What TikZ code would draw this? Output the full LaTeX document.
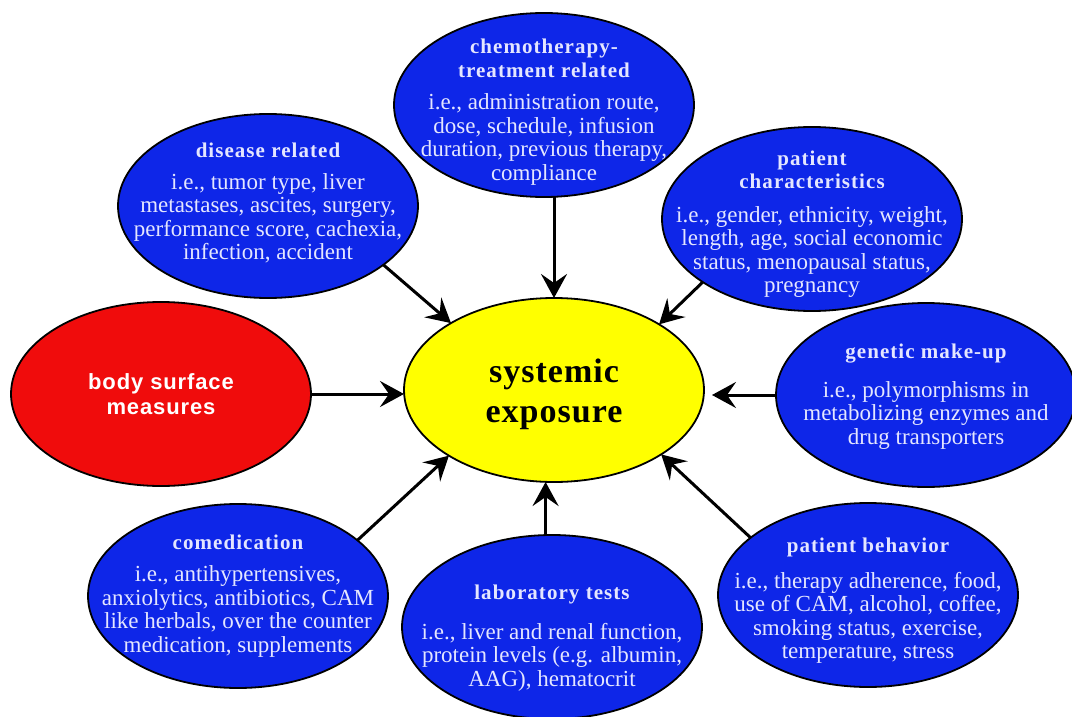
\documentclass[tikz,border=0pt]{standalone}
\usepackage{fontspec}
\setmainfont{Liberation Serif}
\newfontfamily\ttlfont{Liberation Serif}[LetterSpace=5]
\newfontfamily\bigfont{Liberation Serif}[LetterSpace=3]
\newfontfamily\redfont{Liberation Sans}[LetterSpace=4]
\usetikzlibrary{shapes.geometric,arrows.meta}
\definecolor{bblue}{RGB}{14,38,232}
\definecolor{btext}{RGB}{228,230,255}
\definecolor{rred}{RGB}{240,12,12}
\definecolor{yyel}{RGB}{255,255,0}
\newcommand{\ttl}[1]{{\ttlfont\bfseries\fontsize{21}{23.5}\selectfont #1}}
\tikzset{
  oval/.style={ellipse, draw=black, line width=1.8pt, minimum width=300pt,
    minimum height=184pt, inner sep=0pt, outer sep=0pt},
  blueoval/.style={oval, fill=bblue},
  redoval/.style={oval, fill=rred},
  yoval/.style={oval, fill=yyel},
  bluetext/.style={inner sep=0pt, align=center, text=btext, font=\fontsize{23}{23.5}\selectfont},
  redtext/.style={inner sep=0pt, align=center, text=white, font=\redfont\bfseries\fontsize{22}{25}\selectfont},
  ytext/.style={inner sep=0pt, align=center, text=black, font=\bigfont\bfseries\fontsize{34}{40}\selectfont},
  arr/.style={-{Stealth[length=24pt,width=26pt,inset=9pt]}, line width=3pt, draw=black},
}
\begin{document}
\begin{tikzpicture}[x=1pt,y=-1pt]
\useasboundingbox (0,0) rectangle (1072,717);
\fill[white] (0,0) rectangle (1072,717);
\node[blueoval] (chemo) at (544,105) {};
\node[blueoval] (disease) at (268,206) {};
\node[blueoval] (patchar) at (812,219) {};
\node[redoval] (bsm) at (161,394) {};
\node[yoval] (yellow) at (554,390) {};
\node[blueoval] (genetic) at (926,395) {};
\node[blueoval] (comed) at (238,596) {};
\node[blueoval] (lab) at (552,627) {};
\node[blueoval] (behav) at (868,595) {};
\node[bluetext] (chemot) at ([yshift=-7pt]chemo.center) {\ttl{chemotherapy-}\\\ttl{treatment related}\\[9pt]
  i.e., administration route,\\dose, schedule, infusion\\duration, previous therapy,\\compliance};
\node[bluetext] (diseaset) at ([yshift=3pt]disease.center) {\ttl{disease related}\\[8pt]
  i.e., tumor type, liver\\metastases, ascites, surgery,\\performance score, cachexia,\\infection, accident};
\node[bluetext] (patchart) at ([yshift=-5pt]patchar.center) {\ttl{patient}\\\ttl{characteristics}\\[10pt]
  i.e., gender, ethnicity, weight,\\length, age, social economic\\status, menopausal status,\\pregnancy};
\node[redtext] (bsmt) at (bsm.center) {body surface\\measures};
\node[ytext] (yellowt) at ([yshift=-4pt]yellow.center) {systemic\\exposure};
\node[bluetext] (genetict) at ([yshift=-1.5pt]genetic.center) {\ttl{genetic make-up}\\[15pt]
  i.e., polymorphisms in\\metabolizing enzymes and\\drug transporters};
\node[bluetext] (comedt) at (comed.center) {\ttl{comedication}\\[9pt]
  i.e., antihypertensives,\\anxiolytics, antibiotics, CAM\\like herbals, over the counter\\medication, supplements};
\node[bluetext] (labt) at ([yshift=-11pt]lab.center) {\ttl{laboratory tests}\\[16pt]
  i.e., liver and renal function,\\protein levels (e.g. albumin,\\AAG), hematocrit};
\node[bluetext] (behavt) at ([yshift=-6pt]behav.center) {\ttl{patient behavior}\\[12pt]
  i.e., therapy adherence, food,\\use of CAM, alcohol, coffee,\\smoking status, exercise,\\temperature, stress};
\draw[arr] (disease.-27.5) -- (yellow.147.6);
\draw[arr] (chemo.south -| yellow.north) -- (yellow.north);
\draw[arr] (patchar.-150.3) -- (yellow.32.7);
\draw[arr] (bsm.east) -- (bsm.east -| yellow.west);
\draw[arr, shorten >=8pt] (genetic.west) -- (genetic.west -| yellow.east);
\draw[arr] (lab.94.4) -- (lab.94.4 |- yellow.south);
\draw[arr] (comed.25) -- (yellow.-148);
\draw[arr] (behav.154.6) -- (yellow.-31.5);
\end{tikzpicture}
\end{document}
